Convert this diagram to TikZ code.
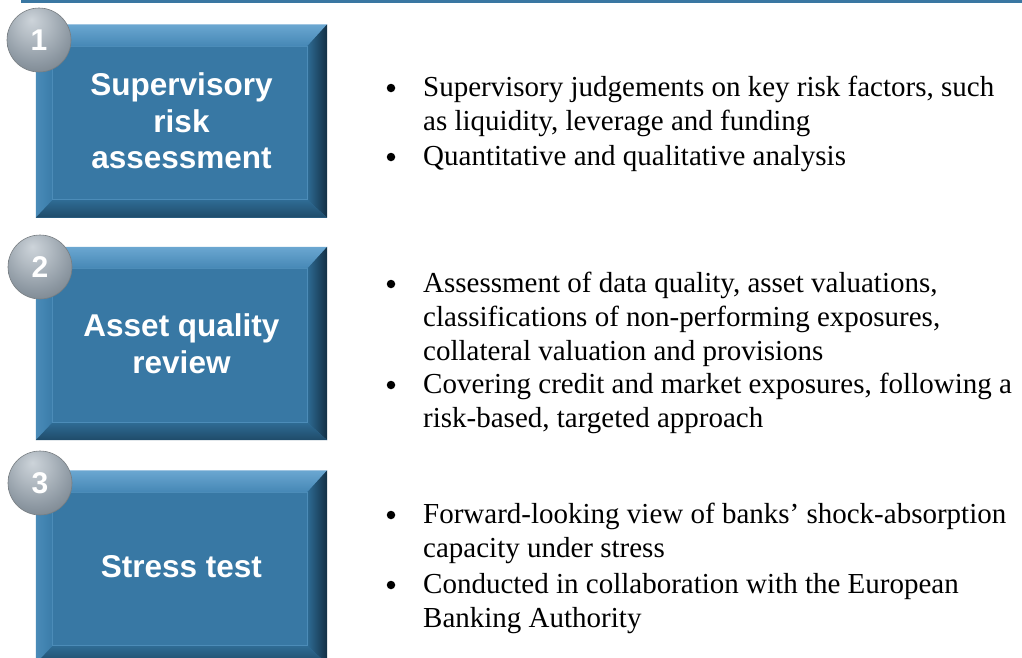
\documentclass[tikz,border=0pt]{standalone}
\usepackage{fontspec}
\setmainfont{Liberation Serif}
\newfontfamily\arialf{Liberation Sans}
\usetikzlibrary{calc}
\definecolor{topline}{HTML}{3A77A2}
\definecolor{face}{HTML}{3878A4}
\definecolor{faceline}{HTML}{4C8CB8}
\definecolor{bevtopout}{HTML}{6BA7D1}
\definecolor{bevtopin}{HTML}{4587B5}
\definecolor{bevleftout}{HTML}{4A8BB8}
\definecolor{bevleftin}{HTML}{3A7CA9}
\definecolor{bevrightout}{HTML}{132F44}
\definecolor{bevrightin}{HTML}{2E6B94}
\definecolor{bevbotout}{HTML}{1F4B69}
\definecolor{bevbotin}{HTML}{2F6C95}
\definecolor{badgehi}{HTML}{CDD4DA}
\definecolor{badgemid}{HTML}{8D98A2}
\definecolor{badgedark}{HTML}{5F6971}
\definecolor{badgeedge}{HTML}{3E464D}
\pgfdeclareradialshading{badgeshade}{\pgfpoint{-6bp}{16bp}}{%
  color(0bp)=(badgehi); color(12bp)=(badgehi!60!badgemid);
  color(28bp)=(badgemid); color(50bp)=(badgedark);
  color(60bp)=(badgeedge); color(72bp)=(badgeedge)}
\newcommand\mybevelbox[1]{%
  \shade[top color=bevtopout, bottom color=bevtopin]
    (#1.north west) -- (#1.north east) -- ($(#1.north east)+(-20,22)$) -- ($(#1.north west)+(17,22)$) -- cycle;
  \shade[left color=bevleftout, right color=bevleftin]
    (#1.north west) -- ($(#1.north west)+(17,22)$) -- ($(#1.south west)+(17,-18)$) -- (#1.south west) -- cycle;
  \shade[left color=bevrightin, right color=bevrightout]
    (#1.north east) -- (#1.south east) -- ($(#1.south east)+(-20,-18)$) -- ($(#1.north east)+(-20,22)$) -- cycle;
  \shade[top color=bevbotin, bottom color=bevbotout]
    (#1.south west) -- ($(#1.south west)+(17,-18)$) -- ($(#1.south east)+(-20,-18)$) -- (#1.south east) -- cycle;
  \draw[faceline, line width=1.2] ($(#1.north west)+(17,22)$) rectangle ($(#1.south east)+(-20,-18)$);
}
\begin{document}
\begin{tikzpicture}[x=1pt,y=-1pt,
  stepbox/.style={minimum width=291, minimum height=193, inner sep=0pt, fill=face,
    text=white, align=center, font=\arialf\bfseries\fontsize{31.5}{36.5}\selectfont},
  badge/.style={circle, minimum size=64, inner sep=0pt, shade, shading=badgeshade,
    draw=badgeedge!70, line width=0.6, text=white, font=\arialf\bfseries\fontsize{30}{30}\selectfont},
  bullettext/.style={anchor=base west, inner sep=0pt, align=left,
    font=\fontsize{29}{34.4}\selectfont},
  dot/.style={circle, fill=black, minimum size=8.5, inner sep=0pt}]
\useasboundingbox (0,0) rectangle (1022,657);
\clip (0,0) rectangle (1022,657);
\fill[white] (0,0) rectangle (1022,657);
\coordinate (tl0) at (21,1.2);
\coordinate (tl1) at (1022,1.2);
\draw[topline, line width=2.6] (tl0) -- (tl1);

\node[stepbox] (b1) at (181.5,121) {Supervisory\\risk\\assessment};
\mybevelbox{b1}
\node[stepbox] (b2) at (181.5,343.5) {Asset quality\\review};
\mybevelbox{b2}
\node[stepbox] (b3) at (181.5,567) {Stress test};
\mybevelbox{b3}

\node[badge] (c1) at (39,40) {1};
\node[badge] (c2) at (40,267) {2};
\node[badge] (c3) at (40,483) {3};

% anchor base = baseline of the last line of each item
\node[dot] (d1a) at (391,88) {};
\node[bullettext] (t1a) at (423,130.4) {Supervisory judgements on key risk factors, such\\as liquidity, leverage and funding};
\node[dot] (d1b) at (391,157) {};
\node[bullettext] (t1b) at (423,165) {Quantitative and qualitative analysis};

\node[dot] (d2a) at (391,284) {};
\node[bullettext] (t2a) at (423,360.8) {Assessment of data quality, asset valuations,\\classifications of non-performing exposures,\\collateral valuation and provisions};
\node[dot] (d2b) at (391,385) {};
\node[bullettext] (t2b) at (423,427.4) {Covering credit and market exposures, following a\\risk-based, targeted approach};

\node[dot] (d3a) at (391,515) {};
\node[bullettext] (t3a) at (423,557.4) {Forward-looking view of banks’ shock-absorption\\capacity under stress};
\node[dot] (d3b) at (391,585) {};
\node[bullettext] (t3b) at (423,627.4) {Conducted in collaboration with the European\\Banking Authority};
\end{tikzpicture}
\end{document}
